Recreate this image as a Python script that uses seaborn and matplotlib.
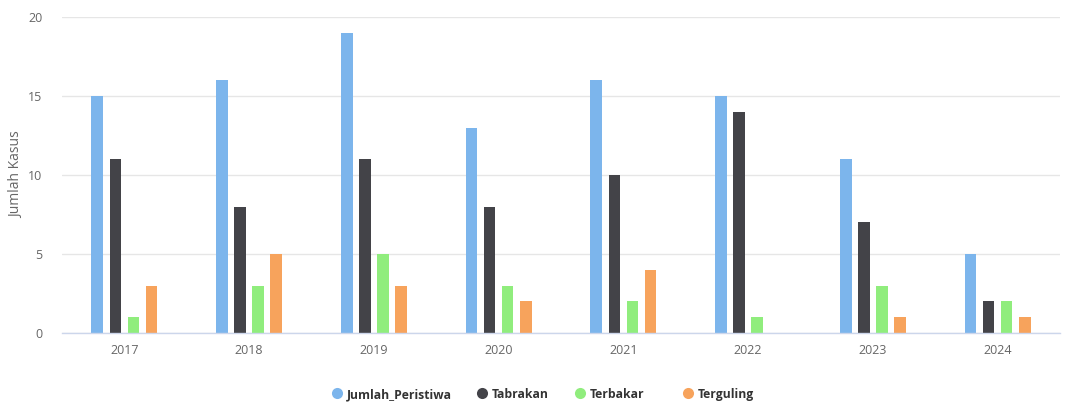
import pandas as pd
import seaborn as sns
import matplotlib.pyplot as plt
from matplotlib.lines import Line2D

years = ['2017', '2018', '2019', '2020', '2021', '2022', '2023', '2024']
jumlah_peristiwa = [15, 16, 19, 13, 16, 15, 11, 5]
tabrakan = [11, 8, 11, 8, 10, 14, 7, 2]
terbakar = [1, 3, 5, 3, 2, 1, 3, 2]
terguling = [3, 5, 3, 2, 4, 0, 1, 1]

series_names = ['Jumlah_Peristiwa', 'Tabrakan', 'Terbakar', 'Terguling']
colors_list = ['#7cb5ec', '#434348', '#90ed7d', '#f7a35c']

df = pd.DataFrame({'Tahun': years,
                   'Jumlah_Peristiwa': jumlah_peristiwa,
                   'Tabrakan': tabrakan,
                   'Terbakar': terbakar,
                   'Terguling': terguling})
long_df = df.melt(id_vars='Tahun', var_name='Jenis', value_name='Jumlah')

sns.set_style('white')
plt.rcParams['font.family'] = ['Open Sans', 'DejaVu Sans']

W, H = 1071, 403
fig = plt.figure(figsize=(W / 100, H / 100), dpi=100)
ax = fig.add_axes([62 / W, 1 - 333 / H, 998 / W, 316 / H])

sns.barplot(data=long_df, x='Tahun', y='Jumlah', hue='Jenis', hue_order=series_names,
            palette=colors_list, width=0.58, gap=0.36, saturation=1, ax=ax,
            edgecolor='none', legend=False)

ax.set_ylim(0, 20)
ax.set_yticks([0, 5, 10, 15, 20])
ax.set_xlim(-0.5, len(years) - 0.5)
ax.yaxis.grid(True, color='#e6e6e6', linewidth=1)
ax.set_axisbelow(True)
for side in ['top', 'right', 'left']:
    ax.spines[side].set_visible(False)
ax.spines['bottom'].set_color('#ccd6eb')
ax.spines['bottom'].set_linewidth(1)
ax.tick_params(axis='both', length=0, labelsize=9, colors='#666666')
ax.tick_params(axis='x', pad=8)
ax.tick_params(axis='y', pad=14)
ax.set_xlabel('')
ax.set_ylabel('Jumlah Kasus', fontsize=10, color='#666666')
ax.yaxis.set_label_coords(-0.038, 0.5)

# legend at the bottom, laid out by hand so all labels sit on one line
legend_x = [337, 482, 580, 688]
legend_y = 1 - 393 / H
for name, c, x in zip(series_names, colors_list, legend_x):
    fig.add_artist(Line2D([x / W], [legend_y], marker='o', markersize=8, linestyle='none',
                          markerfacecolor=c, markeredgecolor='none', transform=fig.transFigure))
    fig.text((x + 10) / W, legend_y, name, fontsize=8.7, fontweight='bold', color='#333333',
             va='center_baseline', ha='left')

plt.savefig('out.png', dpi=100)
